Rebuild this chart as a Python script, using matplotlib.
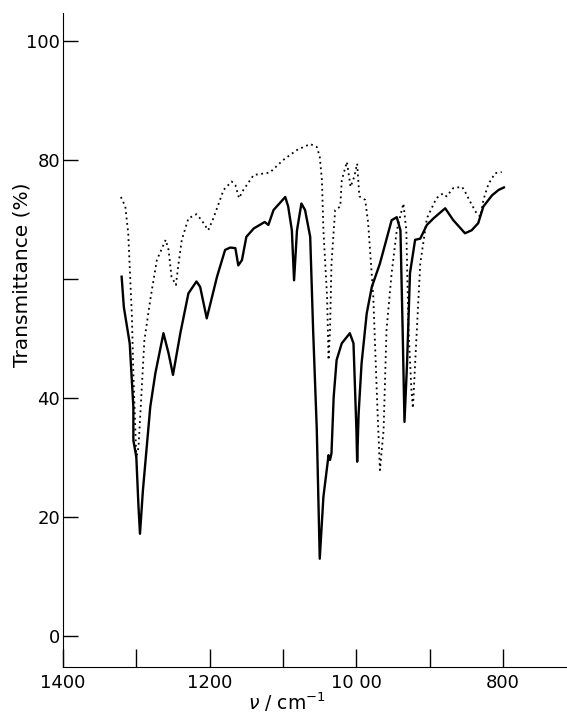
import matplotlib
matplotlib.use("Agg")
import matplotlib.pyplot as plt

# solid trace (sample), wavenumber / transmittance
wn_solid = [1320, 1317, 1309, 1304, 1304, 1300, 1297, 1295, 1291, 1281, 1274, 1263,
            1256, 1250, 1240, 1229, 1218, 1213, 1204, 1190, 1179, 1172, 1165, 1161,
            1156, 1150, 1140, 1125, 1120, 1113, 1097, 1093, 1088, 1085, 1081, 1075,
            1070, 1063, 1059, 1054, 1050, 1045, 1038, 1036, 1034, 1031, 1027, 1020,
            1009, 1004, 1000, 999, 997, 993, 986, 979, 968, 952, 945, 940, 937, 934.5,
            931, 927, 920, 913, 904, 895, 879, 868, 852, 843, 834, 827, 815, 806, 799]
t_solid = [60.4, 55.3, 49.2, 38.5, 32.9, 30.1, 21.7, 17.2, 24.5, 38.5, 44.2, 50.9,
           47.5, 43.9, 50.9, 57.6, 59.6, 58.7, 53.4, 60.4, 64.9, 65.3, 65.2, 62.3,
           63.2, 67.1, 68.5, 69.6, 69.1, 71.6, 73.8, 72.2, 68.2, 59.8, 68.2, 72.7,
           71.6, 67.1, 51.4, 34.6, 13.0, 23.4, 30.4, 29.6, 30.7, 40.2, 46.4, 49.2,
           50.9, 49.2, 34.6, 29.3, 37.4, 45.8, 54.2, 58.7, 62.6, 69.9, 70.4, 68.2, 51.4, 36.0,
           45.8, 61.0, 66.6, 66.8, 69.1, 70.2, 71.9, 69.9, 67.7, 68.2, 69.4, 72.2, 74.1, 75.0, 75.4]

# dotted trace (reference)
wn_dot = [1321, 1315, 1311, 1309, 1306, 1304, 1300, 1297, 1294, 1289, 1281, 1272,
          1260, 1256, 1252, 1246, 1243, 1238, 1229, 1218, 1211, 1202, 1195, 1181,
          1170, 1165, 1160, 1154, 1140, 1118, 1100, 1081, 1063, 1054, 1050, 1047,
          1045, 1040, 1038, 1036, 1034, 1029, 1022, 1020, 1013, 1008, 1003, 999,
          996, 988, 984, 977, 972, 968, 963, 959, 952, 945, 936, 932, 929, 925,
          923, 920, 913, 904, 891, 882, 877, 868, 856, 852, 845, 836, 831, 827,
          820, 811, 802]
t_dot = [73.8, 72.2, 67.7, 62.1, 53.7, 44.1, 29.9, 31.8, 38.5, 49.7, 56.5, 63.2,
         66.6, 64.9, 60.4, 59.0, 62.1, 66.6, 70.2, 70.9, 69.9, 68.2, 70.2, 75.0,
         76.4, 75.8, 73.6, 75.0, 77.5, 77.9, 80.0, 81.7, 82.7, 82.2, 80.6, 76.6,
         68.2, 57.0, 46.4, 51.4, 62.6, 71.6, 72.2, 76.6, 79.7, 75.5, 77.2, 79.4,
         73.9, 73.3, 69.4, 57.0, 40.2, 27.9, 34.6, 51.4, 61.0, 68.2, 72.7, 68.2, 51.4, 41.3,
         38.3, 45.8, 62.6, 70.2, 73.6, 74.4, 73.9, 75.3, 75.5, 74.7, 73.0, 71.0, 70.5, 73.3,
         76.0, 77.8, 78.0]

y_ticks = [0, 20, 40, 60, 80, 100]
y_labels = ["0", "20", "40", "", "80", "100"]
x_ticks = [1400, 1300, 1200, 1100, 1000, 900, 800]
x_labels = ["1400", "", "1200", "", "10 00", "", "800"]

fig = plt.figure(figsize=(5.67, 7.17), dpi=100)
ax = fig.add_axes([0.111, 0.0697, 0.889, 0.912])

ax.plot(wn_dot, t_dot, color="black", linestyle=(0, (1, 2)), linewidth=1.3)
ax.plot(wn_solid, t_solid, color="black", linewidth=1.7)

ax.set_xlim(1400, 713)
ax.set_ylim(-5.2, 104.7)
ax.spines["top"].set_visible(False)
ax.spines["right"].set_visible(False)

ax.set_yticks(y_ticks)
ax.set_yticklabels(y_labels)
ax.set_xticks(x_ticks)
ax.set_xticklabels(x_labels)
ax.tick_params(axis="y", direction="in", length=11, width=1, labelsize=13, pad=2)
ax.tick_params(axis="x", direction="in", length=13, width=1, labelsize=13, pad=5)

ax.set_ylabel("Transmittance (%)", fontsize=14.5)
ax.yaxis.set_label_coords(-0.062, 0.60)
ax.set_xlabel(r"$\nu$ / cm$^{-1}$", fontsize=13.5)
ax.xaxis.set_label_coords(0.445, -0.036)

fig.savefig("out.png", dpi=100)
